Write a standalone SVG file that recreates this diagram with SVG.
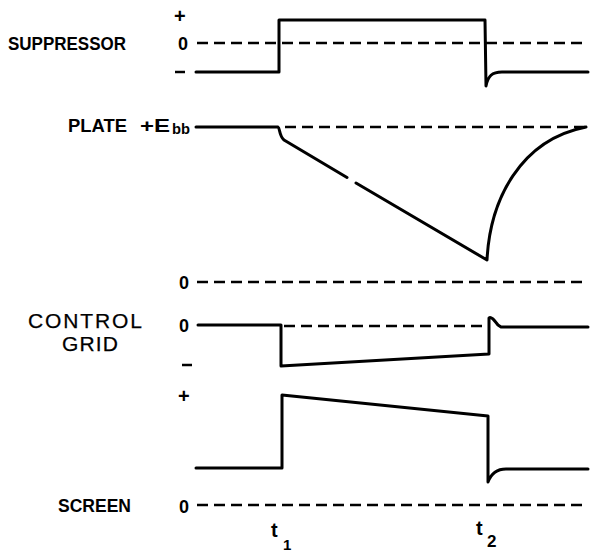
<svg xmlns="http://www.w3.org/2000/svg" width="590" height="552" viewBox="0 0 590 552">
<style>
.lbl{font-family:"Liberation Sans",Arial,sans-serif;font-weight:bold;font-size:18px;fill:#000}
.reg{font-family:"Liberation Sans",Arial,sans-serif;font-size:21px;fill:#000;stroke:#000;stroke-width:0.25}
.dash{stroke:#000;stroke-width:2.5;stroke-dasharray:11 6;fill:none}
.wave{stroke:#000;stroke-width:3;fill:none;stroke-linejoin:round;stroke-linecap:round}
</style>
<rect width="590" height="552" fill="#fff"/>
<g id="baselines">
<line class="dash" x1="197" y1="43" x2="588" y2="43"/>
<line class="dash" x1="285" y1="127" x2="588" y2="127"/>
<line class="dash" x1="197" y1="282" x2="588" y2="282"/>
<line class="dash" x1="284" y1="326" x2="486" y2="326"/>
<line class="dash" x1="197" y1="505" x2="588" y2="505"/>
</g>
<g id="suppressor">
<text class="lbl" x="8" y="50" textLength="118" lengthAdjust="spacingAndGlyphs">SUPPRESSOR</text>
<text class="lbl" x="174" y="23" style="font-size:20px">+</text>
<text class="lbl" x="178" y="50">0</text>
<line x1="175" y1="72" x2="185" y2="72" stroke="#000" stroke-width="2.5"/>
<path class="wave" d="M196,72 L279,72 L279,20 L485,20 L486,86 C488,76 492,72 502,72 L588,72"/>
</g>
<g id="plate">
<text class="lbl" x="68" y="132" textLength="59" lengthAdjust="spacingAndGlyphs">PLATE</text>
<text class="lbl" x="140" y="132" style="font-size:19px" textLength="30" lengthAdjust="spacingAndGlyphs">+E</text>
<text class="lbl" x="172" y="134" style="font-size:15px" textLength="18" lengthAdjust="spacingAndGlyphs">bb</text>
<text class="lbl" x="179" y="289">0</text>
<path class="wave" d="M196,127 L278,127 C280,128 279,136 284,140 L347,177.5"/>
<path class="wave" d="M356,183 L487,260 C490,200 520,140 586,127"/>
</g>
<g id="control-grid">
<text class="reg" x="28" y="328" textLength="114">CONTROL</text>
<text class="reg" x="62" y="351" textLength="56">GRID</text>
<text class="lbl" x="179" y="332">0</text>
<line x1="182" y1="365" x2="192" y2="365" stroke="#000" stroke-width="2.5"/>
<path class="wave" d="M198,325 L281,325 L281,366 L489,354 L489,318 C491,316 494,320 498,325 L501,327 L588,327"/>
</g>
<g id="screen">
<text class="lbl" x="58" y="512" textLength="73" lengthAdjust="spacingAndGlyphs">SCREEN</text>
<text class="lbl" x="178" y="403" style="font-size:20px">+</text>
<text class="lbl" x="179" y="513">0</text>
<path class="wave" d="M196,468 L282,468 L282,395 L488,416 L488,482 C491,474 497,469 506,469 L588,469"/>
</g>
<g id="time-labels">
<text class="lbl" x="271" y="537" style="font-size:20px">t</text>
<text class="lbl" x="283" y="550" style="font-size:15px">1</text>
<text class="lbl" x="476" y="535" style="font-size:20px">t</text>
<text class="lbl" x="487" y="547" style="font-size:17px">2</text>
</g>
</svg>
